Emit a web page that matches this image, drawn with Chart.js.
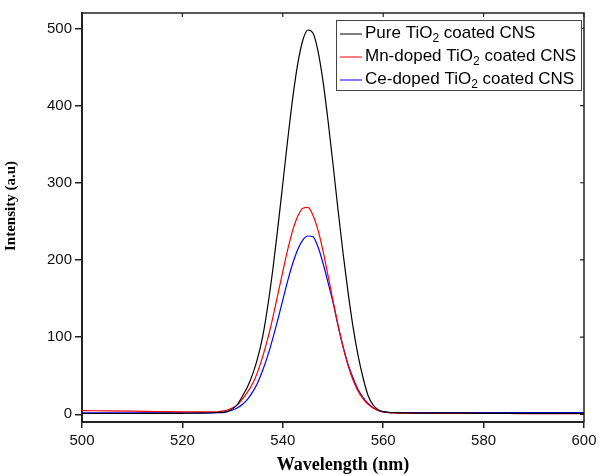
<!DOCTYPE html>
<html>
<head>
<meta charset="utf-8">
<script src="https://cdn.jsdelivr.net/npm/chart.js@4.4.0/dist/chart.umd.min.js"></script>
<style>
  body { margin: 0; background: #fff; }
</style>
</head>
<body>
<canvas id="pl_chart" width="601" height="476"></canvas>
<script>
// wavelength (nm) and PL intensity
const wavelength = [500, 505, 510, 515, 520, 524, 526,
  527, 528, 529, 530, 531, 532, 533, 534, 535, 536, 537, 538, 539, 540, 541, 542, 543, 544,
  545, 546, 547, 548, 549, 550, 551, 552, 553, 554, 555, 556, 557, 558, 559, 560, 561, 562,
  564, 566, 570, 575, 580, 585, 590, 595, 600]

const pureTiO2 = [1.0, 1.0, 1.0, 1.2, 1.3, 1.6, 2,
  2.3, 2.8, 4, 7, 13, 24, 36, 52, 73, 101, 140, 187, 241, 299, 357, 411, 455, 485,
  498, 494, 471, 432, 381, 324, 265, 209, 158, 113, 76, 47, 24, 12, 6, 3.5, 2.5, 2,
  1.8, 1.6, 1.5, 1.4, 1.3, 1.2, 1.2, 1.1, 1.1]

const mnTiO2 = [4.8, 4.4, 4.0, 3.6, 3.2, 3.0, 3.0,
  3.3, 4, 5.5, 8.5, 12.5, 20, 29, 40, 55, 75, 98, 125, 155, 185, 214, 239, 257, 267,
  268, 258, 239, 212, 180, 147, 116, 87, 63, 44, 30, 20, 13, 8, 5, 3, 2.2, 1.8,
  1.5, 1.4, 1.3, 1.2, 1.1, 1.0, 0.9, 0.9, 0.8]

const ceTiO2 = [1.8, 1.8, 1.8, 1.8, 1.8, 1.8, 1.9,
  2, 2.2, 3.5, 5.5, 8.6, 13, 19.7, 29, 41, 57, 76, 98, 122.5, 148, 173.5, 196, 214, 226,
  231, 230, 217, 196, 171, 145, 115, 88, 65, 47, 32, 21.5, 14, 8.5, 5, 3.2, 2.6, 2.3,
  2.2, 2.2, 2.2, 2.2, 2.2, 2.2, 2.2, 2.2, 2.2]

const seriesLabels = ["Pure TiO\u2082 coated CNS", "Mn-doped TiO\u2082 coated CNS", "Ce-doped TiO\u2082 coated CNS"]
const seriesColors = ["#000000", "#ff0000", "#0000ff"]
const xTicks = [500, 520, 540, 560, 580, 600]
const yTicks = [0, 100, 200, 300, 400, 500]

const toPoints = arr => arr.map((v, i) => ({ x: wavelength[i], y: v }))

// draws top/right frame with inward ticks, the legend box and axis titles
const decorPlugin = {
  id: "decor",
  afterDraw(chart) {
    const { ctx, chartArea: a, scales: { x, y } } = chart
    ctx.save()
    ctx.strokeStyle = "#222"
    ctx.lineWidth = 1.5
    ctx.beginPath()
    ctx.moveTo(a.left, a.top)
    ctx.lineTo(a.right, a.top)
    ctx.lineTo(a.right, a.bottom)
    ctx.stroke()
    ctx.lineWidth = 1.2
    ctx.beginPath()
    xTicks.forEach(v => {
      const px = x.getPixelForValue(v)
      ctx.moveTo(px, a.top)
      ctx.lineTo(px, a.top + 4)
    })
    yTicks.forEach(v => {
      const py = y.getPixelForValue(v)
      ctx.moveTo(a.right, py)
      ctx.lineTo(a.right - 4, py)
    })
    ctx.stroke()

    // legend
    ctx.fillStyle = "#fff"
    ctx.fillRect(336.5, 20.5, 245, 70)
    ctx.strokeStyle = "#444"
    ctx.lineWidth = 1
    ctx.strokeRect(336.5, 20.5, 245, 70)
    const rows = [34, 57, 80]
    seriesLabels.forEach((label, i) => {
      const ly = rows[i]
      ctx.strokeStyle = seriesColors[i]
      ctx.beginPath()
      ctx.moveTo(340, ly)
      ctx.lineTo(362, ly)
      ctx.stroke()
      const parts = label.split("\u2082")
      let tx = 365
      const base = ly + 4
      ctx.fillStyle = "#000"
      ctx.textBaseline = "alphabetic"
      ctx.textAlign = "left"
      ctx.font = "17px 'Liberation Sans', Arial, sans-serif"
      ctx.fillText(parts[0], tx, base)
      tx += ctx.measureText(parts[0]).width
      ctx.font = "12px 'Liberation Sans', Arial, sans-serif"
      ctx.fillText("2", tx, base + 4)
      tx += ctx.measureText("2").width
      ctx.font = "17px 'Liberation Sans', Arial, sans-serif"
      ctx.fillText(parts[1], tx, base)
    })

    // axis titles
    ctx.fillStyle = "#000"
    ctx.textAlign = "center"
    ctx.textBaseline = "middle"
    ctx.font = "bold 18px 'Liberation Serif', 'Times New Roman', serif"
    ctx.fillText("Wavelength (nm)", 343, 465)
    ctx.translate(11, 206)
    ctx.rotate(-Math.PI / 2)
    ctx.font = "bold 15px 'Liberation Serif', 'Times New Roman', serif"
    ctx.fillText("Intensity (a.u)", 0, 0)
    ctx.restore()
  }
}

const tickFont = { family: "'Liberation Sans', Arial, sans-serif", size: 15 }

new Chart(document.getElementById("pl_chart"), {
  type: "line",
  data: {
    datasets: [pureTiO2, mnTiO2, ceTiO2].map((arr, i) => ({
      label: seriesLabels[i],
      data: toPoints(arr),
      borderColor: seriesColors[i],
      borderWidth: 1.2,
      pointRadius: 0,
      fill: false,
      cubicInterpolationMode: "monotone"
    }))
  },
  options: {
    responsive: false,
    animation: false,
    layout: { padding: { top: 13, right: 17, left: 0, bottom: 0 } },
    plugins: {
      legend: { display: false },
      tooltip: { enabled: false }
    },
    scales: {
      x: {
        type: "linear",
        min: 500,
        max: 600,
        afterBuildTicks: s => { s.ticks = xTicks.map(v => ({ value: v })) },
        afterFit: s => { s.height = 54 },
        grid: { drawOnChartArea: false, drawTicks: true, tickLength: 6, color: "#222", lineWidth: 1.5 },
        border: { display: true, color: "#222", width: 2 },
        ticks: { color: "#111", font: tickFont, padding: 4, maxRotation: 0 }
      },
      y: {
        type: "linear",
        min: -10,
        max: 520,
        afterBuildTicks: s => { s.ticks = yTicks.map(v => ({ value: v })) },
        afterFit: s => { s.width = 82 },
        grid: { drawOnChartArea: false, drawTicks: true, tickLength: 7, color: "#222", lineWidth: 1.5 },
        border: { display: true, color: "#222", width: 2 },
        ticks: { color: "#111", font: tickFont, padding: 3 }
      }
    }
  },
  plugins: [decorPlugin]
})
</script>
</body>
</html>
